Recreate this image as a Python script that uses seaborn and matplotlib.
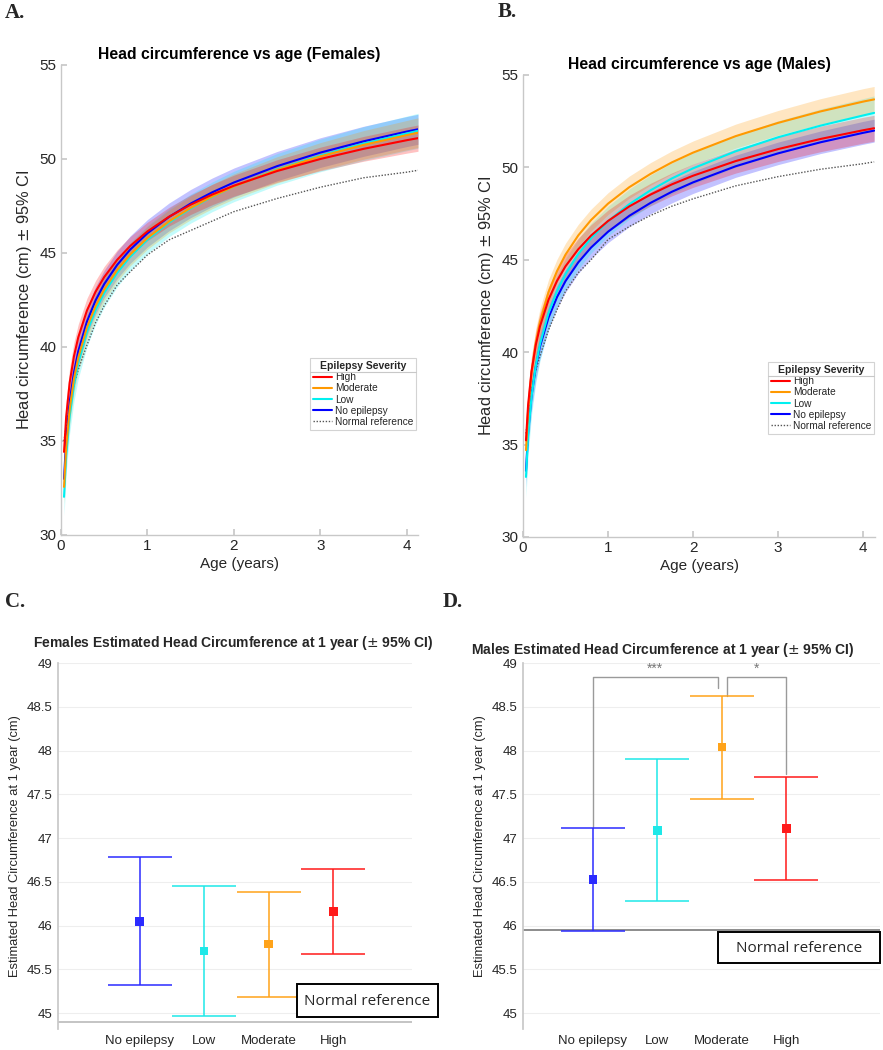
import numpy as np
import pandas as pd
import matplotlib
matplotlib.use("Agg")
import matplotlib.pyplot as plt
import seaborn as sns
from matplotlib.lines import Line2D
from matplotlib.patches import Rectangle

# ---------------- data ----------------
AGES = [0.035, 0.06, 0.1, 0.15, 0.2, 0.3, 0.4, 0.5, 0.65, 0.8, 1.0, 1.25, 1.5, 1.75, 2.0, 2.5, 3.0, 3.5, 4.0, 4.13]

F_HIGH = [34.42, 36.30, 38.09, 39.51, 40.52, 41.94, 42.94, 43.72, 44.64, 45.37, 46.15, 46.93, 47.57, 48.11, 48.58, 49.36, 50.00, 50.54, 51.00, 51.11]
F_MOD = [32.56, 34.69, 36.70, 38.31, 39.44, 41.04, 42.18, 43.06, 44.10, 44.92, 45.80, 46.68, 47.40, 48.01, 48.54, 49.42, 50.14, 50.75, 51.27, 51.40]
F_LOW = [32.03, 34.23, 36.31, 37.97, 39.15, 40.80, 41.97, 42.88, 43.95, 44.80, 45.71, 46.62, 47.36, 47.99, 48.54, 49.45, 50.19, 50.82, 51.36, 51.50]
F_NOEP = [32.98, 35.08, 37.07, 38.65, 39.77, 41.35, 42.48, 43.35, 44.37, 45.18, 46.05, 46.92, 47.63, 48.23, 48.75, 49.62, 50.34, 50.94, 51.46, 51.58]
F_NORM = [35.0, 35.8, 36.9, 38.0, 38.8, 40.1, 41.3, 42.2, 43.3, 44.0, 44.9, 45.7, 46.2, 46.7, 47.2, 47.9, 48.5, 49.0, 49.3, 49.4]

F_HIGH_CI = [0.90, 0.85, 0.80, 0.75, 0.70, 0.65, 0.60, 0.57, 0.53, 0.50, 0.49, 0.50, 0.52, 0.54, 0.56, 0.60, 0.63, 0.66, 0.69, 0.70]
F_MOD_CI = [0.90, 0.85, 0.80, 0.76, 0.72, 0.68, 0.65, 0.63, 0.61, 0.60, 0.60, 0.61, 0.63, 0.65, 0.67, 0.70, 0.73, 0.76, 0.78, 0.79]
F_LOW_CI = [1.00, 0.95, 0.90, 0.86, 0.83, 0.80, 0.78, 0.76, 0.75, 0.74, 0.74, 0.75, 0.77, 0.79, 0.81, 0.84, 0.87, 0.90, 0.92, 0.93]
F_NOEP_CI = [0.90, 0.86, 0.82, 0.79, 0.77, 0.75, 0.74, 0.73, 0.73, 0.73, 0.73, 0.74, 0.75, 0.76, 0.77, 0.78, 0.79, 0.80, 0.80, 0.80]

M_HIGH = [35.23, 37.14, 38.95, 40.38, 41.40, 42.84, 43.86, 44.65, 45.57, 46.31, 47.10, 47.89, 48.53, 49.08, 49.55, 50.34, 50.99, 51.54, 52.01, 52.12]
M_MOD = [34.70, 36.84, 38.87, 40.49, 41.64, 43.25, 44.39, 45.28, 46.32, 47.15, 48.04, 48.93, 49.65, 50.27, 50.80, 51.69, 52.41, 53.03, 53.56, 53.68]
M_LOW = [33.25, 35.47, 37.58, 39.26, 40.44, 42.12, 43.31, 44.23, 45.31, 46.17, 47.09, 48.01, 48.76, 49.40, 49.95, 50.87, 51.63, 52.26, 52.81, 52.95]
M_NOEP = [33.58, 35.66, 37.63, 39.20, 40.31, 41.87, 42.98, 43.85, 44.86, 45.66, 46.52, 47.38, 48.08, 48.68, 49.19, 50.06, 50.76, 51.36, 51.87, 51.99]
M_NORM = [35.6, 36.6, 37.9, 39.0, 39.8, 41.2, 42.3, 43.3, 44.3, 45.0, 46.1, 46.8, 47.4, 47.9, 48.3, 49.0, 49.5, 49.9, 50.2, 50.3]

M_HIGH_CI = [0.95, 0.90, 0.84, 0.78, 0.73, 0.68, 0.64, 0.62, 0.60, 0.59, 0.59, 0.60, 0.61, 0.62, 0.63, 0.65, 0.67, 0.69, 0.70, 0.70]
M_MOD_CI = [0.95, 0.90, 0.84, 0.78, 0.73, 0.68, 0.64, 0.62, 0.60, 0.59, 0.59, 0.60, 0.61, 0.62, 0.63, 0.65, 0.67, 0.69, 0.70, 0.70]
M_LOW_CI = [1.10, 1.05, 1.00, 0.95, 0.91, 0.87, 0.84, 0.83, 0.82, 0.81, 0.81, 0.82, 0.83, 0.84, 0.85, 0.87, 0.89, 0.90, 0.91, 0.92]
M_NOEP_CI = [0.85, 0.80, 0.75, 0.70, 0.67, 0.64, 0.62, 0.61, 0.60, 0.59, 0.59, 0.59, 0.59, 0.60, 0.60, 0.60, 0.61, 0.61, 0.62, 0.62]

GROUPS = ["No epilepsy", "Low", "Moderate", "High"]
LEGEND_ORDER = ["High", "Moderate", "Low", "No epilepsy"]

F_EST = [46.05, 45.71, 45.79, 46.16]
F_LO = [45.32, 44.97, 45.19, 45.68]
F_HI = [46.78, 46.45, 46.39, 46.65]
F_REF_1Y = 44.90

M_EST = [46.53, 47.09, 48.04, 47.11]
M_LO = [45.94, 46.28, 47.45, 46.52]
M_HI = [47.11, 47.90, 48.62, 47.70]
M_REF_1Y = 45.95

# ---------------- style ----------------
COLORS = {"High": "#ff0000", "Moderate": "#ff9900", "Low": "#00f0f0", "No epilepsy": "#0000ff"}
CI_COLORS = {"No epilepsy": "#2b2bff", "Low": "#1ee8e8", "Moderate": "#ffa31a", "High": "#ff1a1a"}
W, H = 883, 1050
AX_GRAY = "#c8c8c8"
TXT = "#262626"

sns.set_theme(style="white")
plt.rcParams["font.family"] = ["Liberation Sans", "DejaVu Sans"]

fig = plt.figure(figsize=(W / 100, H / 100), dpi=100)


def px_axes(l, t, r, b):
    return fig.add_axes([l / W, 1 - b / H, (r - l) / W, (b - t) / H])


def fig_text(x, y, s, **kw):
    fig.text(x / W, 1 - y / H, s, **kw)


def traj_panel(ax, series, cis, norm, title, xmax):
    rows = []
    for g in GROUPS:
        for a, v in zip(AGES, series[g]):
            rows.append({"age": a, "hc": v, "group": g})
    df = pd.DataFrame(rows)
    for g in GROUPS:
        v = np.array(series[g])
        c = np.array(cis[g])
        ax.fill_between(AGES, v - c, v + c, color=COLORS[g], alpha=0.24, lw=0, zorder=1)
    ndf = pd.DataFrame({"age": AGES, "hc": norm})
    sns.lineplot(data=ndf, x="age", y="hc", ax=ax, color="#555555", lw=1.0,
                 linestyle=(0, (1, 1.2)), estimator=None, sort=False, zorder=2)
    sns.lineplot(data=df, x="age", y="hc", hue="group", hue_order=GROUPS, palette=COLORS,
                 ax=ax, lw=1.5, estimator=None, sort=False, legend=False, zorder=3)
    ax.set_xlim(0, xmax)
    ax.set_ylim(30, 55)
    ax.set_xticks([0, 1, 2, 3, 4])
    ax.set_yticks([30, 35, 40, 45, 50, 55])
    for s in ["top", "right"]:
        ax.spines[s].set_visible(False)
    for s in ["left", "bottom"]:
        ax.spines[s].set_color(AX_GRAY)
        ax.spines[s].set_linewidth(1.0)
    ax.tick_params(axis="both", direction="in", length=4, color=AX_GRAY, labelsize=11,
                   labelcolor=TXT, pad=3, left=True, bottom=True)
    ax.set_xlabel("Age (years)", fontsize=11, color=TXT, labelpad=3)
    ax.set_ylabel("Head circumference (cm) $\\pm$ 95% CI", fontsize=11.8, color=TXT, labelpad=4)
    ax.set_title(title, fontsize=11.3, fontweight="bold", color="black", pad=4)
    handles = [Line2D([], [], color=COLORS[g], lw=1.5) for g in LEGEND_ORDER]
    handles.append(Line2D([], [], color="#555555", lw=1.0, linestyle=(0, (1, 1.2))))
    return handles


def add_legend(ax, handles, anchor):
    leg = ax.legend(handles, LEGEND_ORDER + ["Normal reference"], title="Epilepsy Severity",
                    loc="upper left", bbox_to_anchor=anchor, fontsize=7.3, title_fontsize=7.5,
                    frameon=True, fancybox=False, handlelength=1.9, handletextpad=0.25,
                    labelspacing=0.12, borderpad=0.3, borderaxespad=0)
    leg.get_title().set_fontweight("bold")
    leg.get_frame().set_edgecolor("#c8c8c8")
    leg.get_frame().set_linewidth(0.8)
    return leg


# Panel A
axA = px_axes(61, 65, 418, 535)
hA = traj_panel(axA,
                {"High": F_HIGH, "Moderate": F_MOD, "Low": F_LOW, "No epilepsy": F_NOEP},
                {"High": F_HIGH_CI, "Moderate": F_MOD_CI, "Low": F_LOW_CI, "No epilepsy": F_NOEP_CI},
                F_NORM, "Head circumference vs age (Females)", 4.13)
legA = add_legend(axA, hA, (0.697, 0.377))

# Panel B
axB = px_axes(523, 75, 875, 537)
hB = traj_panel(axB,
                {"High": M_HIGH, "Moderate": M_MOD, "Low": M_LOW, "No epilepsy": M_NOEP},
                {"High": M_HIGH_CI, "Moderate": M_MOD_CI, "Low": M_LOW_CI, "No epilepsy": M_NOEP_CI},
                M_NORM, "Head circumference vs age (Males)", 4.14)
legB = add_legend(axB, hB, (0.696, 0.379))


def est_panel(ax, est, lo, hi, ref, refcolor, xlim):
    pos = [1, 2, 3, 4]
    df = pd.DataFrame({"pos": pos, "est": est, "group": GROUPS})
    for p, e, l, h, g in zip(pos, est, lo, hi, GROUPS):
        ax.errorbar([p], [e], yerr=[[e - l], [h - e]], fmt="none", ecolor=CI_COLORS[g],
                    elinewidth=1.1, capsize=23, capthick=1.1, zorder=3)
    sns.scatterplot(data=df, x="pos", y="est", hue="group", palette=CI_COLORS, marker="s",
                    s=38, edgecolor="none", ax=ax, legend=False, zorder=4)
    ax.axhline(ref, color=refcolor, lw=1.4, zorder=2)
    ax.set_xlim(*xlim)
    ax.set_ylim(44.82, 49.0)
    ax.set_yticks(np.arange(45, 49.01, 0.5))
    ax.set_yticklabels(["45", "45.5", "46", "46.5", "47", "47.5", "48", "48.5", "49"])
    ax.set_xticks(pos)
    ax.set_xticklabels(GROUPS)
    ax.grid(axis="y", color="#eeeeee", lw=0.8)
    ax.grid(axis="x", visible=False)
    for s in ["top", "right", "bottom"]:
        ax.spines[s].set_visible(False)
    ax.spines["left"].set_color(AX_GRAY)
    ax.tick_params(axis="both", length=0, labelsize=9.5, labelcolor=TXT, pad=4)
    ax.set_xlabel("")
    ax.set_ylabel("Estimated Head Circumference at 1 year (cm)", fontsize=9.3, color=TXT, labelpad=4)


# Panel C
axC = px_axes(58, 663, 412, 1029)
est_panel(axC, F_EST, F_LO, F_HI, F_REF_1Y, "#c4c4c4", (-0.264, 5.22))
fig_text(233, 643, "Females Estimated Head Circumference at 1 year ($\\pm$ 95% CI)",
         ha="center", va="center", fontsize=10, fontweight="bold")

# Panel D
axD = px_axes(523, 663, 880, 1029)
est_panel(axD, M_EST, M_LO, M_HI, M_REF_1Y, "#8c8c8c", (-0.085, 5.45))
fig_text(663, 650, "Males Estimated Head Circumference at 1 year ($\\pm$ 95% CI)",
         ha="center", va="center", fontsize=10, fontweight="bold")

# significance brackets
BR = "#9a9a9a"
top = 48.84
axD.plot([1, 1, 2.94, 2.94], [M_HI[0] + 0.02, top, top, 48.71], color=BR, lw=1, zorder=2)
axD.plot([3.08, 3.08, 4, 4], [48.62, top, top, M_HI[3] + 0.03], color=BR, lw=1, zorder=2)
axD.text(1.96, top + 0.01, "***", ha="center", va="bottom", fontsize=10, color="#777777")
axD.text(3.54, top + 0.01, "*", ha="center", va="bottom", fontsize=10, color="#777777")

# "Normal reference" boxes
for (l, t, r, b) in [(297, 984, 438, 1017), (718, 932, 880, 963)]:
    fig.patches.append(Rectangle((l / W, 1 - b / H), (r - l) / W, (b - t) / H, transform=fig.transFigure,
                                 facecolor="white", edgecolor="black", lw=1.4, zorder=10))
    fig_text((l + r) / 2, (t + b) / 2 + 1, "Normal reference", ha="center", va="center",
             fontsize=11, family=["Open Sans", "DejaVu Sans"], zorder=11)

# panel letters
for x, y, s in [(5, 13, "A."), (498, 12, "B."), (5, 602, "C."), (443, 602, "D.")]:
    fig_text(x, y, s, ha="left", va="center", fontsize=15, fontweight="bold",
             family=["Liberation Serif", "DejaVu Serif"])

# separator line under legend titles (MATLAB style)
fig.canvas.draw()
rend = fig.canvas.get_renderer()
for leg in (legA, legB):
    fb = leg.get_frame().get_window_extent(rend)
    tb = leg.get_title().get_window_extent(rend)
    ysep = tb.y0 - 1.5
    fig.add_artist(Line2D([fb.x0 / (W), fb.x1 / (W)], [ysep / H, ysep / H],
                          transform=fig.transFigure, color="#c8c8c8", lw=0.8, zorder=20))

fig.savefig("out.png", dpi=100)
